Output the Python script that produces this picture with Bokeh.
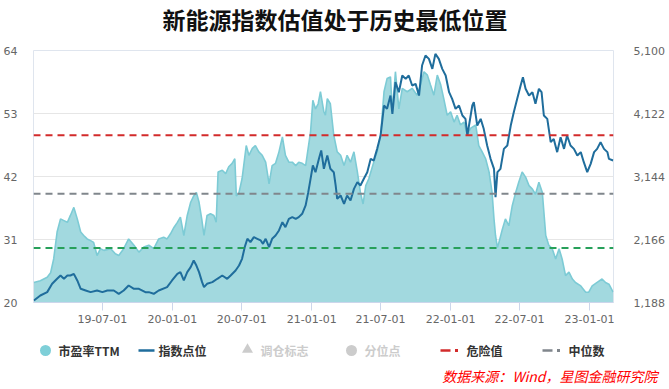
import pandas as pd
from bokeh.plotting import figure
from bokeh.models import (Range1d, LinearAxis, FixedTicker, DatetimeTickFormatter,
                          NumeralTickFormatter, Span, ColumnDataSource, Label, Title)
from bokeh.layouts import column
from bokeh.embed import file_html
from bokeh.resources import INLINE

title_text = "新能源指数估值处于历史最低位置"
source_text = "数据来源：Wind，星图金融研究院"

pe_dates = [
    "2019-01-02", "2019-01-19", "2019-02-06", "2019-02-15", "2019-02-23", "2019-03-04", "2019-03-13",
    "2019-03-22", "2019-03-31", "2019-04-08", "2019-04-17", "2019-04-26", "2019-05-05", "2019-05-13",
    "2019-05-22", "2019-05-31", "2019-06-08", "2019-06-17", "2019-06-26", "2019-07-05", "2019-07-23",
    "2019-08-04", "2019-08-13", "2019-08-26", "2019-09-08", "2019-09-22", "2019-10-05", "2019-10-18",
    "2019-10-31", "2019-11-13", "2019-11-26", "2019-12-09", "2019-12-18", "2019-12-27", "2020-01-05",
    "2020-01-14", "2020-01-22", "2020-01-31", "2020-02-09", "2020-02-18", "2020-02-26", "2020-03-04",
    "2020-03-11", "2020-03-18", "2020-03-24", "2020-04-01", "2020-04-10", "2020-04-19", "2020-04-25",
    "2020-04-30", "2020-05-11", "2020-05-20", "2020-05-28", "2020-06-06", "2020-06-13", "2020-06-17",
    "2020-06-24", "2020-07-02", "2020-07-13", "2020-07-20", "2020-07-29", "2020-08-06", "2020-08-15",
    "2020-08-24", "2020-09-02", "2020-09-11", "2020-09-19", "2020-09-28", "2020-10-07", "2020-10-16",
    "2020-10-24", "2020-11-02", "2020-11-11", "2020-11-20", "2020-11-28", "2020-12-07", "2020-12-16",
    "2020-12-20", "2020-12-29", "2021-01-04", "2021-01-11", "2021-01-18", "2021-01-24", "2021-02-02",
    "2021-02-06", "2021-02-11", "2021-02-19", "2021-02-28", "2021-03-09", "2021-03-18", "2021-03-27",
    "2021-04-04", "2021-04-13", "2021-04-22", "2021-05-01", "2021-05-09", "2021-05-16", "2021-05-23",
    "2021-05-31", "2021-06-13", "2021-06-22", "2021-07-01", "2021-07-10", "2021-07-18", "2021-07-27",
    "2021-08-01", "2021-08-09", "2021-08-18", "2021-08-27", "2021-09-09", "2021-09-22", "2021-10-05",
    "2021-10-14", "2021-10-23", "2021-11-01", "2021-11-09", "2021-11-18", "2021-11-27", "2021-12-06",
    "2021-12-14", "2021-12-23", "2022-01-01", "2022-01-10", "2022-01-18", "2022-01-27", "2022-02-05",
    "2022-02-14", "2022-02-22", "2022-03-08", "2022-03-16", "2022-03-25", "2022-04-03", "2022-04-12",
    "2022-04-20", "2022-04-25", "2022-04-29", "2022-05-04", "2022-05-08", "2022-05-17", "2022-05-25",
    "2022-06-03", "2022-06-12", "2022-06-21", "2022-06-29", "2022-07-08", "2022-07-17", "2022-07-26",
    "2022-08-04", "2022-08-12", "2022-08-21", "2022-08-30", "2022-09-08", "2022-09-16", "2022-09-25",
    "2022-10-04", "2022-10-13", "2022-10-21", "2022-10-30", "2022-11-08", "2022-11-17", "2022-11-25",
    "2022-12-09", "2022-12-22", "2022-12-30", "2023-01-08", "2023-01-21", "2023-02-03", "2023-02-12",
    "2023-02-21", "2023-03-04",
]
pe_values = [
    23.5, 23.8, 24.4, 25.2, 27.6, 32.3, 34.6,
    34.3, 34.0, 35.2, 36.6, 34.6, 32.3, 31.7,
    31.1, 30.8, 30.5, 28.2, 29.4, 29.1, 29.4,
    28.5, 28.2, 29.4, 31.1, 30.0, 28.8, 29.7,
    30.0, 29.4, 31.1, 31.4, 31.1, 32.0, 33.1,
    34.0, 34.9, 31.7, 35.2, 37.5, 38.6, 39.2,
    37.5, 34.6, 31.7, 35.2, 35.5, 35.2, 34.0,
    42.8, 43.1, 42.5, 43.7, 44.3, 45.1, 38.6,
    39.2, 41.6, 47.4, 45.7, 46.9, 47.4, 46.3,
    45.7, 44.5, 40.7, 43.9, 44.3, 46.3, 48.9,
    45.7, 44.5, 44.5, 43.9, 44.5, 44.3, 43.9,
    45.7, 49.8, 55.3, 53.8, 54.7, 56.8, 53.3,
    52.7, 55.6, 54.7, 49.2, 46.3, 45.7, 43.9,
    45.7, 44.5, 46.3, 42.8, 39.2, 37.2, 40.4,
    41.6, 44.5, 46.3, 49.2, 56.8, 59.1, 59.4,
    53.3, 60.3, 53.8, 57.4, 56.8, 57.4, 56.2,
    58.0, 60.3, 59.7, 58.0, 56.2, 59.7, 58.0,
    55.6, 52.7, 53.3, 51.5, 52.7, 51.0, 51.5,
    49.2, 50.4, 51.0, 47.4, 46.3, 45.1, 42.8,
    39.2, 34.6, 31.7, 29.6, 30.5, 32.8, 34.6,
    33.4, 36.9, 39.2, 41.0, 42.8, 41.9, 40.4,
    39.8, 38.9, 41.0, 39.2, 31.7, 30.0, 29.4,
    27.6, 29.4, 27.6, 24.7, 25.3, 24.1, 23.5,
    22.9, 21.8, 21.8, 22.9, 23.5, 24.1, 23.5,
    23.2, 21.8,
]

idx_dates = [
    "2019-01-02", "2019-01-19", "2019-02-06", "2019-02-19", "2019-03-04", "2019-03-13", "2019-03-22",
    "2019-03-31", "2019-04-08", "2019-04-17", "2019-04-26", "2019-05-05", "2019-05-18", "2019-05-31",
    "2019-06-17", "2019-07-01", "2019-07-14", "2019-07-31", "2019-08-13", "2019-08-26", "2019-09-08",
    "2019-09-22", "2019-10-05", "2019-10-22", "2019-10-31", "2019-11-13", "2019-11-26", "2019-12-18",
    "2019-12-31", "2020-01-14", "2020-01-22", "2020-01-31", "2020-02-09", "2020-02-18", "2020-02-26",
    "2020-03-04", "2020-03-11", "2020-03-19", "2020-03-24", "2020-04-01", "2020-04-15", "2020-04-28",
    "2020-05-11", "2020-05-24", "2020-06-02", "2020-06-15", "2020-06-24", "2020-07-02", "2020-07-09",
    "2020-07-16", "2020-07-24", "2020-08-02", "2020-08-11", "2020-08-20", "2020-08-26", "2020-09-02",
    "2020-09-11", "2020-09-19", "2020-09-28", "2020-10-07", "2020-10-16", "2020-10-24", "2020-11-02",
    "2020-11-11", "2020-11-20", "2020-11-28", "2020-12-07", "2020-12-16", "2020-12-23", "2020-12-29",
    "2021-01-04", "2021-01-11", "2021-01-20", "2021-01-26", "2021-02-02", "2021-02-11", "2021-02-19",
    "2021-02-28", "2021-03-05", "2021-03-09", "2021-03-18", "2021-03-27", "2021-04-04", "2021-04-13",
    "2021-04-22", "2021-05-01", "2021-05-09", "2021-05-18", "2021-05-27", "2021-06-05", "2021-06-13",
    "2021-06-22", "2021-07-01", "2021-07-10", "2021-07-18", "2021-07-27", "2021-08-01", "2021-08-09",
    "2021-08-18", "2021-08-27", "2021-09-05", "2021-09-13", "2021-09-22", "2021-10-01", "2021-10-10",
    "2021-10-18", "2021-10-27", "2021-11-05", "2021-11-14", "2021-11-22", "2021-12-01", "2021-12-10",
    "2021-12-19", "2021-12-28", "2022-01-05", "2022-01-14", "2022-01-23", "2022-02-01", "2022-02-09",
    "2022-02-14", "2022-02-27", "2022-03-03", "2022-03-12", "2022-03-21", "2022-03-29", "2022-04-07",
    "2022-04-16", "2022-04-25", "2022-04-29", "2022-05-04", "2022-05-12", "2022-05-21", "2022-05-30",
    "2022-06-08", "2022-06-16", "2022-06-25", "2022-07-04", "2022-07-10", "2022-07-17", "2022-07-26",
    "2022-08-04", "2022-08-12", "2022-08-21", "2022-08-28", "2022-09-03", "2022-09-12", "2022-09-21",
    "2022-09-29", "2022-10-08", "2022-10-17", "2022-10-26", "2022-11-03", "2022-11-12", "2022-11-21",
    "2022-11-30", "2022-12-09", "2022-12-17", "2022-12-26", "2023-01-04", "2023-01-13", "2023-01-21",
    "2023-01-30", "2023-02-08", "2023-02-17", "2023-02-21", "2023-03-04",
]
idx_values = [
    1219, 1297, 1349, 1478, 1556, 1607, 1556,
    1607, 1607, 1633, 1530, 1401, 1375, 1349,
    1375, 1349, 1375, 1375, 1323, 1375, 1452,
    1401, 1401, 1349, 1349, 1323, 1375, 1426,
    1530, 1633, 1659, 1530, 1659, 1737, 1840,
    1762, 1659, 1504, 1426, 1478, 1504, 1556,
    1607, 1556, 1607, 1685, 1762, 1866, 2047,
    2177, 2125, 2203, 2177, 2151, 2099, 2177,
    2047, 2177, 2228, 2306, 2435, 2358, 2487,
    2513, 2487, 2513, 2565, 2694, 2901, 3108,
    3315, 3211, 3418, 3548, 3263, 3470, 3263,
    3211, 3004, 2797, 2849, 2720, 2849, 2771,
    2952, 3056, 3004, 3108, 3211, 3418, 3392,
    3573, 3780, 4246, 4194, 4401, 4116, 4608,
    4453, 4712, 4660, 4712, 4557, 4582, 4401,
    4867, 5022, 4970, 4815, 5048, 4970, 4815,
    4712, 4453, 4350, 4194, 4246, 4091, 4039,
    3780, 4246, 4298, 3935, 4039, 3884, 3625,
    3418, 3263, 2823, 3211, 3263, 3573, 3625,
    3935, 4142, 4350, 4557, 4686, 4505, 4401,
    4453, 4272, 4505, 4453, 4091, 4039, 3677,
    3728, 3522, 3754, 3573, 3780, 3625, 3573,
    3470, 3522, 3366, 3211, 3340, 3522, 3573,
    3677, 3573, 3522, 3418, 3392,
]

x_tick_dates = ["2019-07-01", "2020-01-01", "2020-07-01", "2021-01-01",
                "2021-07-01", "2022-01-01", "2022-07-01", "2023-01-01"]
x_limits = ["2019-01-01", "2023-03-05"]
pe_ticks = [20, 31, 42, 53, 64]
idx_ticks = [1188, 2166, 3144, 4122, 5100]
danger_level = 49.2
median_level = 39.0
chance_level = 29.5

legend_labels = ["市盈率TTM", "指数点位", "调仓标志", "分位点", "危险值", "中位数"]

PE_FILL = "#a2d9df"
PE_LINE = "#7dcbd5"
IDX_COLOR = "#1f6d9c"
RED = "#d22b2b"
GREY = "#80868c"
GREEN = "#27a05a"
AXIS_FONT = "DejaVu Sans"
CJK = "Noto Sans CJK SC"

pe_src = ColumnDataSource(dict(date=pd.to_datetime(pe_dates), pe=pe_values))
idx_src = ColumnDataSource(dict(date=pd.to_datetime(idx_dates), idx=idx_values))

FW, BL, BR = 580, 25, 55          # frame width and side borders (shared by all rows)
FX0, FX1 = 33, 33 + FW            # page x of the frame edges (for header/footer coords)


def strip(h, bottom=0):
    f = figure(frame_width=FW, frame_height=h, min_border_left=BL, min_border_right=BR,
               min_border_top=0, min_border_bottom=bottom,
               x_range=Range1d(FX0, FX1), y_range=Range1d(0, h),
               x_axis_location=None, y_axis_location=None,
               toolbar_location=None, output_backend="svg", outline_line_color=None)
    f.grid.visible = False
    return f


# ---------- header ----------
HH = 42
head = strip(HH)
head.add_layout(Label(x=334.5, y=HH - 18, text=title_text, text_align="center",
                      text_baseline="middle", text_font=CJK, text_font_size="23px",
                      text_font_style="bold", text_color="#111111"))

# ---------- main chart ----------
p = figure(x_axis_type="datetime",
           x_range=Range1d(pd.Timestamp(x_limits[0]), pd.Timestamp(x_limits[1])),
           y_range=Range1d(pe_ticks[0], pe_ticks[-1]),
           frame_width=FW, frame_height=252,
           min_border_left=BL, min_border_right=BR, min_border_top=8, min_border_bottom=28,
           toolbar_location=None, output_backend="svg",
           outline_line_color="#dfe5ee", outline_line_width=1)
p.extra_y_ranges = {"idx": Range1d(idx_ticks[0], idx_ticks[-1])}

p.xgrid.visible = False
p.ygrid.ticker = FixedTicker(ticks=pe_ticks)
p.ygrid.grid_line_color = "#e6e6e6"

ly = p.yaxis[0]
ly.ticker = FixedTicker(ticks=pe_ticks)
ly.axis_line_color = None
ly.major_tick_line_color = None
ly.minor_tick_line_color = None
ly.major_label_standoff = 10
ly.major_label_text_font = AXIS_FONT
ly.major_label_text_font_size = "11px"
ly.major_label_text_color = "#666666"

ry = LinearAxis(y_range_name="idx", ticker=FixedTicker(ticks=idx_ticks),
                formatter=NumeralTickFormatter(format="0,0"))
ry.axis_line_color = None
ry.major_tick_line_color = None
ry.minor_tick_line_color = None
ry.major_label_standoff = 14
ry.major_label_text_font = AXIS_FONT
ry.major_label_text_font_size = "11px"
ry.major_label_text_color = "#666666"
p.add_layout(ry, "right")

xa = p.xaxis[0]
xa.ticker = FixedTicker(ticks=[pd.Timestamp(d).timestamp() * 1000 for d in x_tick_dates])
fmt = "%y-%m-%d"
xa.formatter = DatetimeTickFormatter(milliseconds=fmt, seconds=fmt, minsec=fmt, minutes=fmt,
                                     hourmin=fmt, hours=fmt, days=fmt, months=fmt, years=fmt)
xa.axis_line_color = "#ccd6eb"
xa.major_tick_line_color = "#ccd6eb"
xa.major_tick_out = 8
xa.major_tick_in = 0
xa.minor_tick_line_color = None
xa.major_label_standoff = 4
xa.major_label_text_font = AXIS_FONT
xa.major_label_text_font_size = "11px"
xa.major_label_text_color = "#666666"

p.varea(x="date", y1=pe_ticks[0], y2="pe", source=pe_src, fill_color=PE_FILL, fill_alpha=1)
p.line(x="date", y="pe", source=pe_src, line_color=PE_LINE, line_width=1.6)
p.line(x="date", y="idx", source=idx_src, y_range_name="idx", line_color=IDX_COLOR, line_width=2)

for lvl, col in [(danger_level, RED), (median_level, GREY), (chance_level, GREEN)]:
    p.add_layout(Span(location=lvl, dimension="width", line_color=col,
                      line_width=2, line_dash="7 5"))

# ---------- footer: legend + source ----------
FH = 34
foot = strip(FH, bottom=25)
ly_ = FH - 20
foot.scatter(x=[45], y=[ly_], size=11, marker="circle", fill_color="#7ecfd8", line_color=None)
foot.line(x=[138, 154], y=[ly_, ly_], line_color=IDX_COLOR, line_width=2.5)
foot.scatter(x=[247], y=[ly_ + 1], size=11, marker="triangle", fill_color="#cccccc", line_color=None)
foot.scatter(x=[351], y=[ly_], size=11, marker="circle", fill_color="#cccccc", line_color=None)
foot.line(x=[440, 450], y=[ly_, ly_], line_color=RED, line_width=2.5)
foot.scatter(x=[456], y=[ly_], size=3, marker="square", fill_color=RED, line_color=None)
foot.line(x=[542, 552], y=[ly_, ly_], line_color=GREY, line_width=2.5)
foot.scatter(x=[558], y=[ly_], size=3, marker="square", fill_color=GREY, line_color=None)

label_x = [58, 158, 260, 364, 466, 568]
label_col = ["#333333", "#333333", "#cccccc", "#cccccc", "#333333", "#333333"]
for lx, txt, c in zip(label_x, legend_labels, label_col):
    foot.add_layout(Label(x=lx, y=ly_, text=txt, text_align="left", text_baseline="middle",
                          text_font=CJK, text_font_size="12px", text_font_style="bold",
                          text_color=c))
foot.add_layout(Title(text=source_text, align="right", offset=-44, vertical_align="middle",
                      standoff=0, text_font=CJK, text_font_size="14px",
                      text_font_style="italic", text_color="#ff0000"), "below")

layout = column(head, p, foot, spacing=0)
open("out.html", "w").write(file_html(layout, INLINE))
